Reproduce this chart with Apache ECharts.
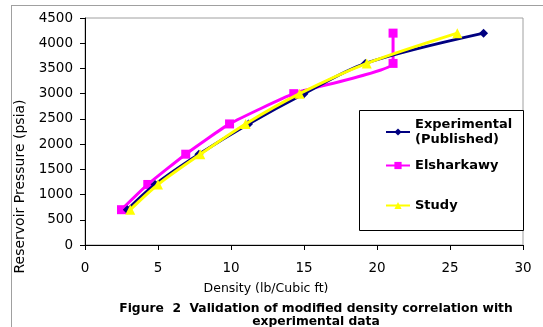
<!DOCTYPE html>
<html>
<head>
<meta charset="utf-8">
<script src="https://cdn.jsdelivr.net/npm/echarts@6/dist/echarts.min.js"></script>
<style>
  body { margin: 0; background: #fff; }
  #frame { position: absolute; left: 11px; top: 5px; width: 540px; height: 330px;
           border-left: 1px solid #a0a0a0; border-top: 1px solid #a0a0a0; }
  #main { position: absolute; left: 0; top: 0; width: 543px; height: 327px; }
</style>
</head>
<body>
<div id="frame"></div>
<div id="main"></div>
<script>
// density (lb/cubic ft) vs reservoir pressure (psia)
const experimental = [[2.9, 700], [4.8, 1200], [7.8, 1800], [11.2, 2400], [15, 3000], [19.2, 3600], [27.3, 4200]];
const elsharkawy = [[2.5, 700], [4.3, 1200], [6.9, 1800], [9.9, 2400], [14.3, 3000], [21.1, 3600], [21.1, 4200]];
const study = [[3.1, 700], [5, 1200], [7.9, 1800], [11, 2400], [14.7, 3000], [19.3, 3600], [25.5, 4200]];
const seriesNames = ['Experimental\n(Published)', 'Elsharkawy', 'Study'];

const font = 'DejaVu Sans, Verdana, sans-serif';
let chart = echarts.init(document.getElementById('main'));

const legendBase = {
    left: 380,
    itemWidth: 24,
    itemHeight: 9,
    itemGap: 2,
    textStyle: { fontFamily: font, fontWeight: 'bold', fontSize: 13, color: '#000', lineHeight: 15 }
};

let option = {
    animation: false,
    backgroundColor: 'transparent',
    title: {
        text: 'Figure  2  Validation of modified density correlation with\nexperimental data',
        left: 311,
        top: 297,
        textAlign: 'center',
        textStyle: { fontFamily: font, fontWeight: 'bold', fontSize: 12.3, color: '#000', lineHeight: 13 }
    },
    grid: {
        left: 85, right: 20, top: 18, bottom: 82,
        show: true, borderColor: '#a0a0a0', borderWidth: 1
    },
    legend: [
        Object.assign({}, legendBase, { top: 112, data: [seriesNames[0]] }),
        Object.assign({}, legendBase, { top: 153, data: [seriesNames[1]] }),
        Object.assign({}, legendBase, { top: 193, data: [seriesNames[2]] })
    ],
    graphic: [{
        type: 'rect',
        shape: { x: 359.5, y: 110.5, width: 164, height: 120 },
        style: { fill: '#fff', stroke: '#000', lineWidth: 1 },
        z: 0
    }],
    xAxis: {
        type: 'value',
        min: 0, max: 30, interval: 5,
        name: 'Density (lb/Cubic ft)',
        nameLocation: 'middle',
        nameGap: 37,
        nameTextStyle: { fontFamily: font, fontSize: 12.5, color: '#000', padding: [0, 76, 0, 0] },
        axisLine: { lineStyle: { color: '#000', width: 1 } },
        axisTick: { show: true, length: 5, lineStyle: { color: '#000' } },
        axisLabel: { fontFamily: font, fontSize: 13.5, color: '#000', margin: 16 },
        splitLine: { show: false }
    },
    yAxis: {
        type: 'value',
        min: 0, max: 4500, interval: 500,
        name: 'Reservoir Pressure (psia)',
        nameLocation: 'middle',
        nameGap: 42,
        nameTextStyle: { fontFamily: font, fontSize: 14, color: '#000', padding: [0, 110, 0, 0] },
        axisLine: { show: true, lineStyle: { color: '#000', width: 1 } },
        axisTick: { show: true, length: 5, lineStyle: { color: '#000' } },
        axisLabel: { fontFamily: font, fontSize: 13.5, color: '#000', margin: 12, formatter: v => String(v) },
        splitLine: { show: false }
    },
    series: [
        {
            name: seriesNames[0], type: 'line', data: experimental, smooth: 0.3,
            symbol: 'diamond', symbolSize: 9,
            lineStyle: { color: '#000080', width: 3 },
            itemStyle: { color: '#000080' }, z: 3
        },
        {
            name: seriesNames[1], type: 'line', data: elsharkawy, smooth: 0.15,
            symbol: 'rect', symbolSize: 9,
            lineStyle: { color: '#ff00ff', width: 3 },
            itemStyle: { color: '#ff00ff' }, z: 2
        },
        {
            name: seriesNames[2], type: 'line', data: study, smooth: 0.3,
            symbol: 'triangle', symbolSize: 10,
            lineStyle: { color: '#ffff00', width: 3 },
            itemStyle: { color: '#ffff00' }, z: 4
        }
    ]
};

chart.setOption(option);
</script>
</body>
</html>
